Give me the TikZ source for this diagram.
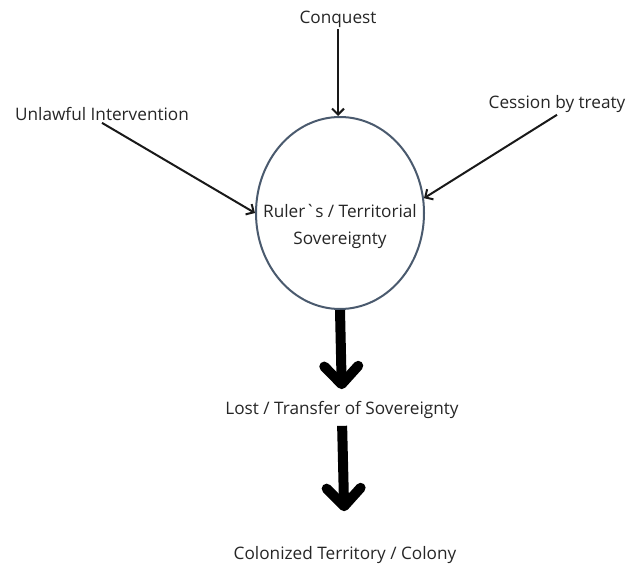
\documentclass[tikz,border=0pt]{standalone}
\usepackage{fontspec}
\setmainfont{Open Sans}
\usetikzlibrary{shapes,arrows.meta}
\definecolor{slate}{HTML}{4A5A6E}

\begin{document}
\begin{tikzpicture}[x=1pt,y=-1pt]
   \useasboundingbox[fill=white] (0,0) rectangle (629,567);
   \tikzstyle{txt}=[font=\fontsize{17.2}{27}\selectfont, text=black!85, inner sep=2pt]
   \tikzstyle{feed}=[-{Straight Barb[length=6pt,width=12pt]}, line width=2pt, black!90]
   \tikzstyle{flow}=[-{Straight Barb[length=18pt,width=34pt,round]}, line width=10pt]
   \node[ellipse, draw=slate, line width=2pt, minimum width=168, minimum height=192, inner sep=0] (sov) at (340,213) {};
   \node[txt, align=center] (sovtxt) at (340,226) {Ruler\textasciigrave s / Territorial\\Sovereignty};
   \node[txt] (conquest) at (338,19) {Conquest};
   \node[txt] (unlawful) at (102,114) {Unlawful Intervention};
   \node[txt] (cession) at (557,104) {Cession by treaty};
   \node[txt] (lost) at (342,410) {Lost / Transfer of Sovereignty};
   \node[txt] (colony) at (345,555) {Colonized Territory / Colony};
   \path[feed] (conquest.south) edge (conquest.south |- sov.north);
   \path[feed] (unlawful.south) edge (sov.west);
   \path[feed] (cession.south) edge (sov.10);
   \path[flow] (sov.south) edge[shorten >=10pt] (lost.north);
   \path[flow] (lost.south) edge[shorten <=5pt, shorten >=33pt] (colony.north);
\end{tikzpicture}
\end{document}
